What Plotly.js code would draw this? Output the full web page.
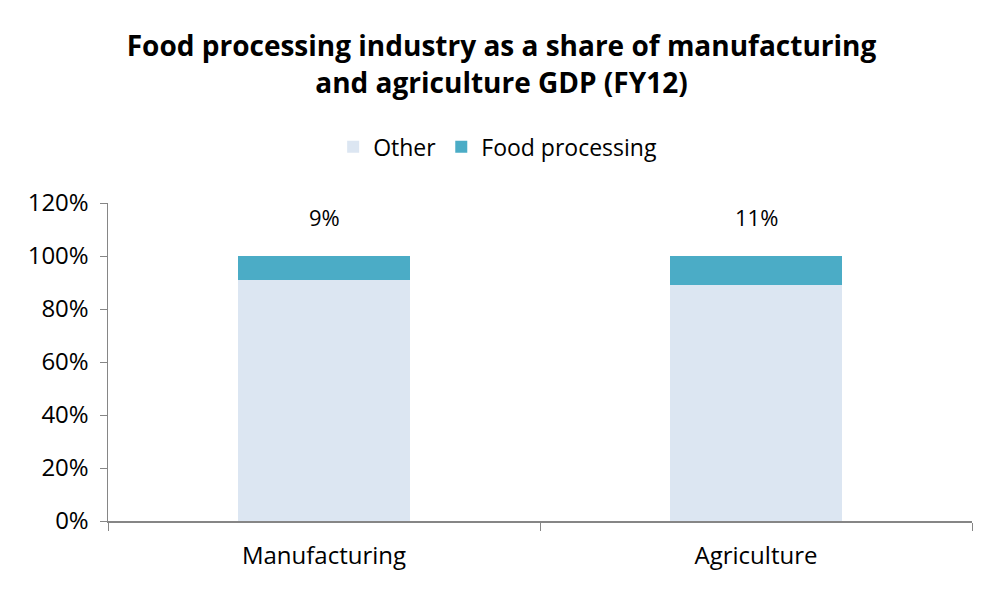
<!DOCTYPE html>
<html>
<head>
<meta charset="utf-8">
<script src="https://cdn.plot.ly/plotly-3.0.1.min.js"></script>
<style>html,body{margin:0;padding:0;background:#fff;}#chart{width:1003px;height:593px;}</style>
</head>
<body>
<div id="chart"></div>
<script>
const categories = ["Manufacturing", "Agriculture"];
const otherShare = [91, 89];
const foodShare = [9, 11];
const foodLabels = ["9%", "11%"];
const yTicks = [0, 20, 40, 60, 80, 100, 120];
const yTickLabels = ["0%", "20%", "40%", "60%", "80%", "100%", "120%"];

const FONT = "'Open Sans', sans-serif";

const traces = [
  {type: "bar", name: "Other", x: categories, y: otherShare,
   marker: {color: "#DCE6F2"}, width: 0.4, hoverinfo: "none"},
  {type: "bar", name: "Food processing", x: categories, y: foodShare,
   marker: {color: "#4BACC6"}, width: 0.4, hoverinfo: "none"}
];

const annotations = categories.map((c, i) => ({
  x: c, y: otherShare[i] + foodShare[i], xref: "x", yref: "y",
  text: foodLabels[i], showarrow: false, yanchor: "bottom", yshift: 22,
  font: {family: FONT, size: 22, color: "#000"}
}));

const layout = {
  width: 1003, height: 593,
  margin: {l: 108, r: 31, t: 203, b: 72},
  paper_bgcolor: "#fff", plot_bgcolor: "#fff",
  barmode: "stack",
  bargap: 0.6,
  title: {text: "<b>Food processing industry as a share of manufacturing<br>and agriculture GDP (FY12)</b>",
          x: 0.5, xanchor: "center", y: 0.905, yanchor: "top",
          font: {family: FONT, size: 28, color: "#000"}},
  showlegend: true,
  legend: {orientation: "h", x: 0.451, xanchor: "center", y: 1.177, yanchor: "middle",
           font: {family: FONT, size: 23, color: "#000"}, traceorder: "normal",
           itemwidth: 30},
  xaxis: {showline: true, linecolor: "#868686", linewidth: 1.5,
          ticks: "outside", tickson: "boundaries", ticklen: 8, tickcolor: "#868686",
          ticklabelstandoff: 13,
          tickfont: {family: FONT, size: 24, color: "#000"}, showgrid: false,
          zeroline: false, fixedrange: true},
  yaxis: {range: [0, 120], tickvals: yTicks, ticktext: yTickLabels,
          showline: true, linecolor: "#868686", linewidth: 1.5,
          ticks: "outside", ticklen: 7, tickcolor: "#868686",
          ticklabelstandoff: 6,
          tickfont: {family: FONT, size: 24, color: "#000"}, showgrid: false,
          zeroline: false, fixedrange: true},
  annotations: annotations
};

Plotly.newPlot("chart", traces, layout, {displayModeBar: false, staticPlot: true});
</script>
</body>
</html>
